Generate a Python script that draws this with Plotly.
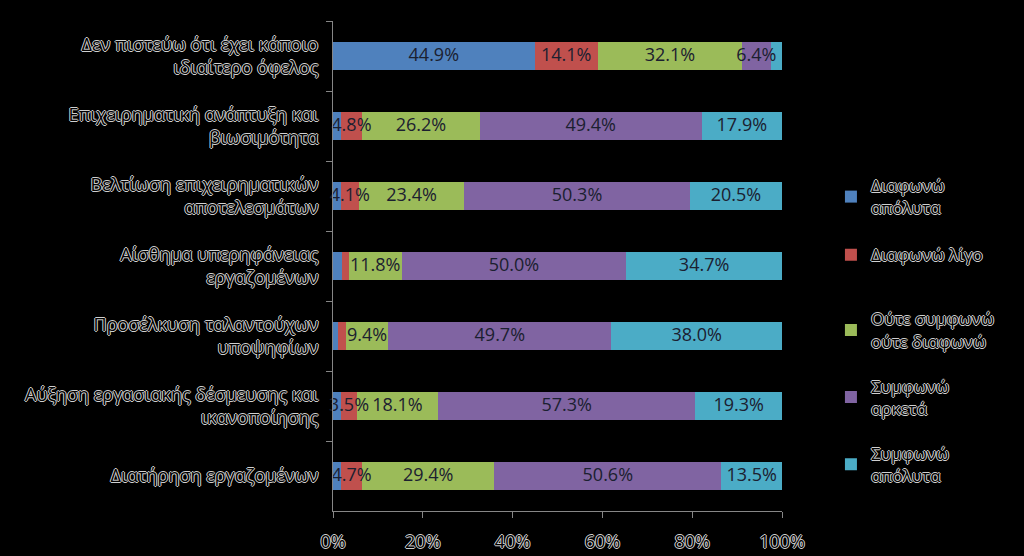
import plotly.graph_objects as go

categories = [
    "Δεν πιστεύω ότι έχει κάποιο<br>ιδιαίτερο όφελος",
    "Επιχειρηματική ανάπτυξη και<br>βιωσιμότητα",
    "Βελτίωση επιχειρηματικών<br>αποτελεσμάτων",
    "Αίσθημα υπερηφάνειας<br>εργαζομένων",
    "Προσέλκυση ταλαντούχων<br>υποψηφίων",
    "Αύξηση εργασιακής δέσμευσης και<br>ικανοποίησης",
    "Διατήρηση εργαζομένων",
]

series_names = [
    "Διαφωνώ<br>απόλυτα",
    "Διαφωνώ λίγο",
    "Ούτε συμφωνώ<br>ούτε διαφωνώ",
    "Συμφωνώ<br>αρκετά",
    "Συμφωνώ<br>απόλυτα",
]

disagree_full = [44.9, 1.7, 1.7, 2.0, 1.2, 1.8, 1.8]
disagree_little = [14.1, 4.8, 4.1, 1.5, 1.7, 3.5, 4.7]
neutral = [32.1, 26.2, 23.4, 11.8, 9.4, 18.1, 29.4]
agree_much = [6.4, 49.4, 50.3, 50.0, 49.7, 57.3, 50.6]
agree_full = [2.5, 17.9, 20.5, 34.7, 38.0, 19.3, 13.5]

show_label = [
    [True, False, False, False, False, False, False],
    [True, True, True, False, False, True, True],
    [True, True, True, True, True, True, True],
    [True, True, True, True, True, True, True],
    [False, True, True, True, True, True, True],
]

colors = ["#4f81bd", "#c0504d", "#9bbb59", "#8064a2", "#4bacc6"]
legend_ids = ["legend", "legend", "legend2", "legend2", "legend2"]

OUTLINE = "1px 0 0 #d0d0d0, -1px 0 0 #d0d0d0, 0 1px 0 #d0d0d0, 0 -1px 0 #d0d0d0"
FONT = "Open Sans"

fig = go.Figure()
all_series = [disagree_full, disagree_little, neutral, agree_much, agree_full]
for i, (name, vals) in enumerate(zip(series_names, all_series)):
    fig.add_trace(go.Bar(
        y=categories, x=vals, name=name, orientation="h",
        marker=dict(color=colors[i], line=dict(width=0)),
        legend=legend_ids[i], legendgroup=f"g{i}",
        hoverinfo="skip",
    ))

# value labels drawn on top of all segments, centred on each segment
lab_x, lab_y, lab_t = [], [], []
cum = [0.0] * len(categories)
for i, vals in enumerate(all_series):
    for j, v in enumerate(vals):
        if show_label[i][j]:
            lab_x.append(cum[j] + v / 2)
            lab_y.append(categories[j])
            lab_t.append(f"{v:.1f}%")
        cum[j] += v
fig.add_trace(go.Scatter(
    x=lab_x, y=lab_y, text=lab_t, mode="text", textposition="middle center",
    textfont=dict(family=FONT, size=18, color="#1b2030"),
    showlegend=False, hoverinfo="skip", cliponaxis=False,
))

fig.update_layout(
    width=1024, height=556,
    barmode="stack", bargap=0.6,
    paper_bgcolor="#000000", plot_bgcolor="#000000",
    margin=dict(l=333, r=242, t=21, b=45),
    font=dict(family=FONT, size=16, color="#000000"),
    showlegend=True,
    legend=dict(
        x=1.109, y=0.70, xanchor="left", yanchor="top",
        bgcolor="rgba(0,0,0,0)", traceorder="grouped", tracegroupgap=22,
        font=dict(family=FONT, size=17, color="#000000", shadow=OUTLINE),
        itemwidth=30,
    ),
    legend2=dict(
        x=1.109, y=0.428, xanchor="left", yanchor="top",
        bgcolor="rgba(0,0,0,0)", traceorder="grouped", tracegroupgap=20,
        font=dict(family=FONT, size=17, color="#000000", shadow=OUTLINE),
        itemwidth=30,
    ),
)

fig.update_xaxes(
    range=[0, 100], tickvals=[0, 20, 40, 60, 80, 100],
    ticktext=["0%", "20%", "40%", "60%", "80%", "100%"],
    showgrid=False, zeroline=False, automargin=False,
    showline=True, linecolor="#868686", linewidth=1,
    ticks="outside", ticklen=6, tickcolor="#868686", ticklabelstandoff=8,
    tickfont=dict(family=FONT, size=18, color="#000000", shadow=OUTLINE),
)
fig.update_yaxes(
    range=[len(categories) - 0.5, -0.5], autorange=False,
    showgrid=False, zeroline=False, automargin=False,
    showline=True, linecolor="#868686", linewidth=1,
    ticks="outside", ticklen=6, tickcolor="#868686", tickson="boundaries",
    ticklabelstandoff=10,
    tickfont=dict(family=FONT, size=18, color="#000000", shadow=OUTLINE),
)

fig.write_html("out.html")
